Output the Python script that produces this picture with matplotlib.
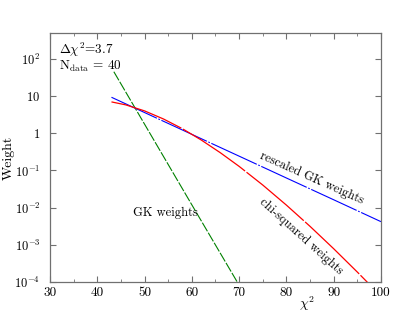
import matplotlib
matplotlib.use('Agg')
import matplotlib.pyplot as plt
import matplotlib.ticker as ticker

plt.rcParams['font.family'] = 'serif'
plt.rcParams['font.serif'] = ['cmr10', 'DejaVu Serif']
plt.rcParams['mathtext.fontset'] = 'cm'
plt.rcParams['axes.unicode_minus'] = False

# values
gk_x = [43.5, 50, 60, 69.6]
gk_w = [45.4, 1.76, 0.0119, 1.0e-4]

resc_x = [43, 50, 60, 70, 80, 90, 100]
resc_w = [9.33, 3.62, 0.938, 0.243, 0.0628, 0.0163, 0.0042]

chi_x = [43, 46, 50, 54, 58, 62, 66, 70, 75, 80, 85, 90, 95, 97.2]
chi_w = [7.0, 5.83, 4.01, 2.43, 1.33, 0.659, 0.302, 0.129, 0.0406,
         0.0117, 0.00314, 0.000785, 0.000185, 0.0000962]

yticks = [1e-4, 1e-3, 1e-2, 1e-1, 1, 10, 100]
ylabels = [r'$10^{-4}$', r'$10^{-3}$', r'$10^{-2}$', r'$10^{-1}$', r'$1$', r'$10$', r'$10^{2}$']

fig = plt.figure(figsize=(4.15, 3.16), dpi=100)
ax = fig.add_axes([0.1205, 0.1076, 0.7975, 0.788])

ax.plot(gk_x, gk_w, color='#008000', lw=0.8, dashes=(9, 1.5))
ax.plot(resc_x, resc_w, color='#0000ff', lw=0.8, dashes=(45, 1.5, 1.5, 1.5))
ax.plot(chi_x, chi_w, color='#ff0000', lw=0.9, dashes=(60, 1.5))

ax.set_yscale('log')
ax.set_xlim(30, 100)
ax.set_ylim(1e-4, 500)
ax.set_yticks(yticks)
ax.set_yticklabels(ylabels)
ax.yaxis.set_minor_locator(ticker.NullLocator())
ax.xaxis.set_major_locator(ticker.MultipleLocator(10))
ax.xaxis.set_minor_locator(ticker.MultipleLocator(5))
ax.tick_params(which='both', direction='in', top=True, right=True,
               color='#707070', labelsize=9.5)
ax.tick_params(which='major', length=4)
ax.tick_params(which='minor', length=2.5)
ax.tick_params(axis='y', pad=7, labelsize=9)
for s in ax.spines.values():
    s.set_color('#707070')
    s.set_linewidth(0.9)

ax.set_ylabel('Weight', fontsize=10, va='center')
ax.yaxis.set_label_coords(-0.124, 0.5)
ax.set_xlabel(r'$\chi^2$', fontsize=10, va='center')
ax.xaxis.set_label_coords(0.776, -0.088)

ax.text(31.9, 10**2.24, r'$\Delta\chi^2$=3.7', fontsize=9.5, va='center')
ax.text(31.9, 10**1.81, r'N$_{\rm data}$ = 40', fontsize=9.5, va='center')
ax.text(47.5, 10**-2.135, 'GK weights', fontsize=9, va='center')
ax.text(85.4, 10**-1.19, 'rescaled GK weights', fontsize=9,
        rotation=-24, ha='center', va='center', rotation_mode='anchor')
ax.text(83.1, 10**-2.76, 'chi-squared weights', fontsize=9,
        rotation=-42, ha='center', va='center', rotation_mode='anchor')

fig.savefig('out.png', dpi=100)
